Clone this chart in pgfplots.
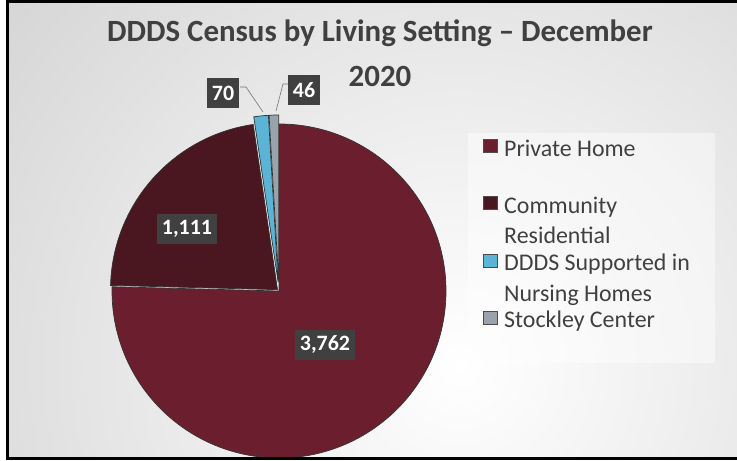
\documentclass[border=0pt]{standalone}
\usepackage{pgfplots}
\usepackage{pgfplotstable}
\pgfplotsset{compat=1.18}
\usepackage{fontspec}
\setmainfont{Carlito}

\definecolor{privcol}{HTML}{6B1F2E}
\definecolor{commcol}{HTML}{4A1620}
\definecolor{nurscol}{HTML}{5BB3D5}
\definecolor{stockcol}{HTML}{9AA2AC}
\definecolor{txtcol}{HTML}{404040}

% DDDS census, December 2020
\pgfplotstableread{
setting value
Private 3762
Community 1111
Nursing 70
Stockley 46
}\censustable

\pgfplotstablegetelem{0}{value}\of\censustable\let\vA\pgfplotsretval
\pgfplotstablegetelem{1}{value}\of\censustable\let\vB\pgfplotsretval
\pgfplotstablegetelem{2}{value}\of\censustable\let\vC\pgfplotsretval
\pgfplotstablegetelem{3}{value}\of\censustable\let\vD\pgfplotsretval
\pgfmathsetmacro\total{\vA+\vB+\vC+\vD}
\pgfmathsetmacro\aA{90}
\pgfmathsetmacro\aB{\aA-360*(\vA/\total)}
\pgfmathsetmacro\aC{\aB-360*(\vB/\total)}
\pgfmathsetmacro\aD{\aC-360*(\vC/\total)}
\pgfmathsetmacro\aE{\aD-360*(\vD/\total)}
\pgfmathsetmacro\mB{(\aB+\aC)/2}
\pgfmathsetmacro\mC{(\aC+\aD)/2}
\pgfmathsetmacro\mD{(\aD+\aE)/2}

\pgfplotsset{
  legsq/.style={legend image code/.code={
    \path[fill=none, draw=none] (0bp,-20bp) rectangle (14bp,20bp);
    \filldraw[##1, draw=black!70, line width=0.5bp] (0bp,9.2bp) rectangle (14bp,22.2bp);}},
}
\tikzset{
  lbl/.style={fill=txtcol, text=white, font=\fontsize{22}{24}\selectfont\bfseries,
    inner xsep=5bp, inner ysep=0bp, minimum height=30bp},
}

\begin{document}
\begin{tikzpicture}
\begin{axis}[
  x=1bp, y=1bp, scale only axis,
  xmin=0, xmax=737, ymin=0, ymax=461,
  hide axis, clip=false,
  legend style={at={(axis cs:482.5,328)}, anchor=north west,
    draw=none, fill=none, text=txtcol,
    font=\fontsize{24}{30.5}\selectfont,
    row sep=0pt, inner sep=0pt,
    /tikz/every odd column/.append style={column sep=5bp}},
  legend cell align=left,
  legend style={cells={align=left}},
]
\addlegendimage{legsq, fill=privcol}
\addlegendentry{\strut Private Home\\\strut}
\addlegendimage{legsq, fill=commcol}
\addlegendentry{\strut Community\\\strut Residential}
\addlegendimage{legsq, fill=nurscol}
\addlegendentry{\strut DDDS Supported in\\\strut Nursing Homes}
\addlegendimage{legsq, fill=stockcol}
\addlegendentry{\strut Stockley Center\\\strut}

% background
\fill[white] (axis cs:0,0) rectangle (axis cs:737,461);
\begin{scope}
  \clip (axis cs:7,2) rectangle (axis cs:737,460);
  \shade[inner color=white, outer color=black!25] (axis cs:460,95) circle[radius=900bp];
\end{scope}
\fill[white, opacity=0.45] (axis cs:468,98) rectangle (axis cs:715,328);

% slices
\filldraw[fill=privcol, draw=black!80, line width=0.7bp] (axis cs:279,170) -- ++(\aA:167bp)
  arc[start angle=\aA, end angle=\aB, radius=167bp] -- cycle;
\filldraw[fill=commcol, draw=black!80, line width=0.7bp] (axis cs:279,170) ++(\mB:2bp) -- ++(\aB:167bp)
  arc[start angle=\aB, end angle=\aC, radius=167bp] -- cycle;
\filldraw[fill=nurscol, draw=black!80, line width=0.7bp] (axis cs:279,170) ++(\mC:9bp) -- ++(\aC:167bp)
  arc[start angle=\aC, end angle=\aD, radius=167bp] -- cycle;
\filldraw[fill=stockcol, draw=black!80, line width=0.7bp] (axis cs:279,170) ++(\mD:9bp) -- ++(\aD:167bp)
  arc[start angle=\aD, end angle=\aE, radius=167bp] -- cycle;

% leader lines
\draw[black!55, line width=0.6bp] (axis cs:240,374) -- (axis cs:246,374) -- (axis cs:263,349);
\draw[black!55, line width=0.6bp] (axis cs:288,377) -- (axis cs:283,377) -- (axis cs:276,350);

% data labels
\node[lbl] at (axis cs:325,116) {3,762};
\node[lbl] at (axis cs:187,232) {1,111};
\node[lbl] at (axis cs:223,368) {70};
\node[lbl] at (axis cs:304,371) {46};

% title
\node[text=txtcol, font=\fontsize{31}{36}\selectfont\bfseries, anchor=base]
  at (axis cs:380,419) {DDDS Census by Living Setting -- December};
\node[text=txtcol, font=\fontsize{31}{36}\selectfont\bfseries, anchor=base]
  at (axis cs:380,374) {2020};

% frame
\draw[black, line width=3bp] (axis cs:737,459.5) -- (axis cs:7.5,459.5) -- (axis cs:7.5,2.5) -- (axis cs:737,2.5);
\end{axis}
\pgfresetboundingbox
\useasboundingbox (current axis.south west) rectangle (current axis.north east);
\end{tikzpicture}
\end{document}
